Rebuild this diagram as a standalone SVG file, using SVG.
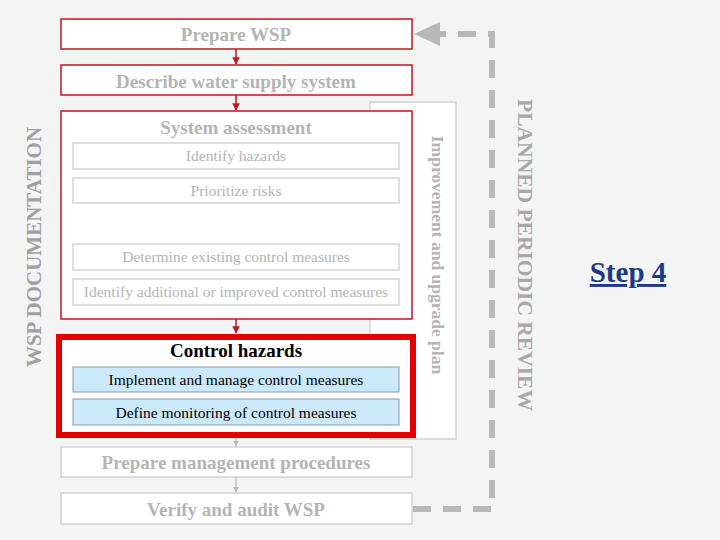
<svg xmlns="http://www.w3.org/2000/svg" width="720" height="540" viewBox="0 0 720 540">
<defs>
<style>
text{font-family:"Liberation Serif","Times New Roman",serif;text-anchor:middle}
.box{fill:#fff;stroke:#c0161c;stroke-width:1.5}
.gbox{fill:#fff;stroke:#c8c8c8;stroke-width:1.2}
.sub{fill:#fff;stroke:#bdbdbd;stroke-width:1}
.blue{fill:#cce8fb;stroke:#8a9aa8;stroke-width:1}
.t{fill:#b4b4b4;font-weight:bold;font-size:19px}
.s{fill:#b4b4b4;font-size:15.5px}
.k{fill:#000;font-size:15.5px}
</style>
<marker id="ar" viewBox="0 0 10 10" refX="9" refY="5" markerWidth="5" markerHeight="5" orient="auto"><path d="M0,0L10,5L0,10z" fill="#c0161c"/></marker>
<marker id="ag" viewBox="0 0 10 10" refX="9" refY="5" markerWidth="5" markerHeight="5" orient="auto"><path d="M0,0L10,5L0,10z" fill="#b8b8b8"/></marker>
</defs>
<rect width="720" height="540" fill="#f4f4f4"/>
<g id="connectors">
<line x1="236" y1="49" x2="236" y2="64" stroke="#c0161c" stroke-width="1.5" marker-end="url(#ar)"/>
<line x1="236" y1="95" x2="236" y2="110" stroke="#c0161c" stroke-width="1.5" marker-end="url(#ar)"/>
<line x1="236" y1="319" x2="236" y2="333" stroke="#c0161c" stroke-width="1.5" marker-end="url(#ar)"/>
<line x1="236" y1="437" x2="236" y2="446" stroke="#b8b8b8" stroke-width="1.2" marker-end="url(#ag)"/>
<line x1="236" y1="477" x2="236" y2="492" stroke="#b8b8b8" stroke-width="1.2" marker-end="url(#ag)"/>
<path d="M413,509H492V34H440" fill="none" stroke="#b8b8b8" stroke-width="6" stroke-dasharray="18,12"/>
<path d="M414,34L440,22V46z" fill="#b8b8b8"/>
</g>
<g id="plan"><rect x="370" y="102" width="86" height="337" class="gbox"/>
<text transform="translate(432,255) rotate(90)" class="t" style="font-size:17.5px">Improvement and upgrade plan</text></g>
<g id="prepare"><rect x="61" y="19" width="351" height="30" class="box"/><text x="236" y="41" class="t">Prepare WSP</text></g>
<g id="describe"><rect x="61" y="65" width="351" height="30" class="box"/><text x="236" y="88" class="t">Describe water supply system</text></g>
<g id="assessment"><rect x="61" y="111" width="351" height="208" class="box"/><text x="236" y="134" class="t">System assessment</text>
<rect x="73" y="143" width="326" height="26" class="sub"/><text x="236" y="161" class="s">Identify hazards</text>
<rect x="73" y="178" width="326" height="25" class="sub"/><text x="236" y="196" class="s">Prioritize risks</text>
<rect x="73" y="244" width="326" height="26" class="sub"/><text x="236" y="262" class="s">Determine existing control measures</text>
<rect x="73" y="279" width="326" height="26" class="sub"/><text x="236" y="297" class="s">Identify additional or improved control measures</text></g>
<g id="control"><rect x="59" y="337" width="354" height="98" fill="#fff" stroke="#e30000" stroke-width="6"/>
<text x="236" y="357" class="t" style="fill:#000">Control hazards</text>
<rect x="73" y="367" width="326" height="25" class="blue"/><text x="236" y="385" class="k">Implement and manage control measures</text>
<rect x="73" y="399" width="326" height="26" class="blue"/><text x="236" y="418" class="k">Define monitoring of control measures</text></g>
<g id="procedures"><rect x="61" y="447" width="351" height="30" class="gbox"/><text x="236" y="469" class="t">Prepare management procedures</text></g>
<g id="verify"><rect x="61" y="493" width="351" height="31" class="gbox"/><text x="236" y="516" class="t">Verify and audit WSP</text></g>
<g id="labels">
<text transform="translate(41,247) rotate(-90)" class="t" style="font-size:21px;fill:#a0a0a0">WSP DOCUMENTATION</text>
<text transform="translate(518,255) rotate(90)" class="t" style="font-size:21.5px;fill:#a8a8a8">PLANNED PERIODIC REVIEW</text>
<text x="628" y="282" font-size="29" font-weight="bold" fill="#1a3a8a" text-decoration="underline">Step 4</text>
</g>
</svg>
